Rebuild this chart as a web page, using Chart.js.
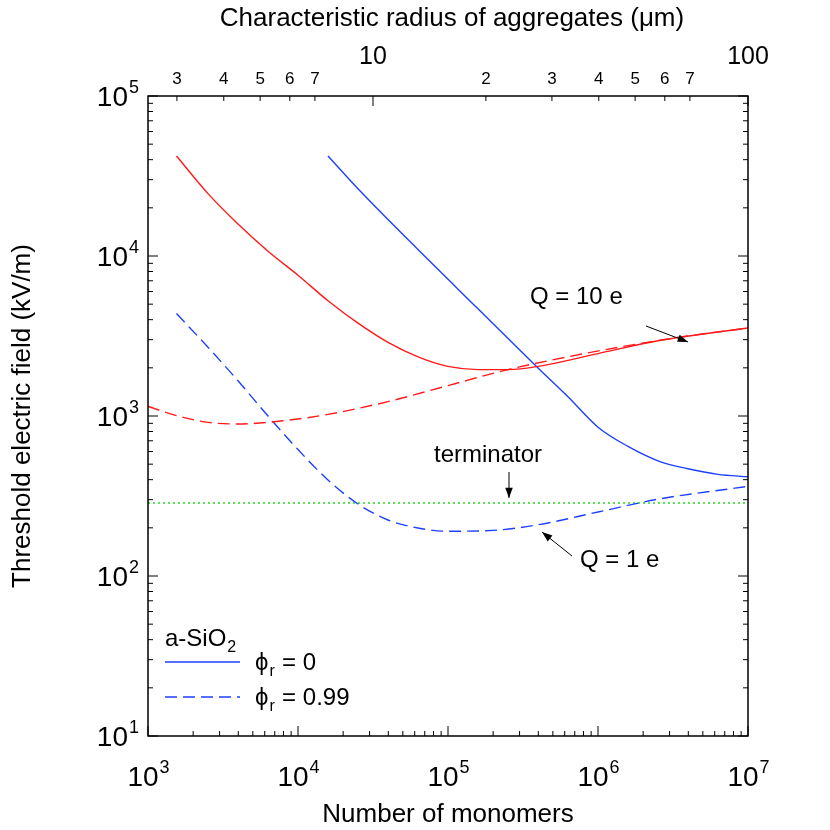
<!DOCTYPE html>
<html><head><meta charset="utf-8">
<script src="https://cdn.jsdelivr.net/npm/chart.js@4/dist/chart.umd.min.js"></script>
<style>html,body{margin:0;background:#fff}#wrap{width:830px;height:830px}</style>
</head><body><div id="wrap"><canvas id="c"></canvas></div>
<script>
// values (log10 N, log10 E[kV/m])
const redSolidLogN = [3.19, 3.4, 3.6, 3.8, 4.0, 4.2, 4.4, 4.6, 4.8, 5.0, 5.2, 5.4, 5.6, 6.0, 6.4, 7.0];
const redSolidLogE = [4.625, 4.39, 4.2, 4.03, 3.88, 3.72, 3.58, 3.46, 3.37, 3.31, 3.29, 3.29, 3.31, 3.39, 3.47, 3.55];
const redDashLogN = [3.0, 3.2, 3.4, 3.6, 3.9, 4.2, 4.6, 5.0, 5.4, 5.8, 6.2, 6.6, 7.0];
const redDashLogE = [3.06, 3.0, 2.96, 2.95, 2.97, 3.01, 3.09, 3.19, 3.29, 3.37, 3.44, 3.5, 3.55];
const blueSolidLogN = [4.2, 4.4, 4.8, 5.2, 5.6, 5.8, 6.0, 6.2, 6.4, 6.6, 6.8, 7.0];
const blueSolidLogE = [4.625, 4.42, 4.04, 3.67, 3.3, 3.12, 2.93, 2.81, 2.72, 2.67, 2.635, 2.62];
const blueDashLogN = [3.19, 3.4, 3.6, 3.8, 4.0, 4.2, 4.4, 4.6, 4.8, 5.0, 5.3, 5.6, 6.0, 6.4, 7.0];
const blueDashLogE = [3.64, 3.43, 3.22, 3.0, 2.79, 2.6, 2.45, 2.35, 2.3, 2.28, 2.285, 2.32, 2.4, 2.48, 2.56];
const terminatorE = 286;
const radiusTickLabels = ['3', '4', '5', '6', '7', '10', '2', '3', '4', '5', '6', '7', '100'];
const radiusTickValues = [3, 4, 5, 6, 7, 10, 20, 30, 40, 50, 60, 70, 100];

const pts = (xs, ys) => xs.map((x, i) => ({ x: Math.pow(10, x), y: Math.pow(10, ys[i]) }));
const FONT = '"Liberation Sans", Arial, sans-serif';

const ds = (label, xs, ys, color, dash) => ({
  label, data: pts(xs, ys), borderColor: color, borderWidth: 1.4,
  borderDash: dash || [], pointRadius: 0, cubicInterpolationMode: 'monotone', fill: false
});

function arrow(ctx, x1, y1, x2, y2) {
  ctx.beginPath(); ctx.moveTo(x1, y1); ctx.lineTo(x2, y2); ctx.stroke();
  const a = Math.atan2(y2 - y1, x2 - x1), L = 11, w = 0.35;
  ctx.beginPath(); ctx.moveTo(x2, y2);
  ctx.lineTo(x2 - L * Math.cos(a - w), y2 - L * Math.sin(a - w));
  ctx.lineTo(x2 - L * Math.cos(a + w), y2 - L * Math.sin(a + w));
  ctx.closePath(); ctx.fill();
}

const decor = {
  id: 'decor',
  afterDraw(chart) {
    const ctx = chart.ctx, a = chart.chartArea, xs = chart.scales.x, ys = chart.scales.y, xt = chart.scales.xTop;
    ctx.save();
    ctx.strokeStyle = '#000'; ctx.fillStyle = '#000'; ctx.lineWidth = 1.5;
    ctx.strokeRect(a.left, a.top, a.right - a.left, a.bottom - a.top);
    ctx.lineWidth = 1;
    // x ticks
    for (let d = 3; d <= 7; d++) for (let m = 1; m <= 9; m++) {
      if (d === 7 && m > 1) break;
      const px = xs.getPixelForValue(m * Math.pow(10, d)), L = m === 1 ? 10 : 5;
      ctx.beginPath(); ctx.moveTo(px, a.bottom); ctx.lineTo(px, a.bottom - L); ctx.stroke();
    }
    // y ticks both sides
    for (let d = 1; d <= 5; d++) for (let m = 1; m <= 9; m++) {
      if (d === 5 && m > 1) break;
      const py = ys.getPixelForValue(m * Math.pow(10, d)), L = m === 1 ? 10 : 5;
      ctx.beginPath(); ctx.moveTo(a.left, py); ctx.lineTo(a.left + L, py);
      ctx.moveTo(a.right, py); ctx.lineTo(a.right - L, py); ctx.stroke();
    }
    // top ticks
    radiusTickValues.forEach((v, i) => {
      const px = xt.getPixelForValue(v), big = v === 10 || v === 100;
      ctx.beginPath(); ctx.moveTo(px, a.top); ctx.lineTo(px, a.top + (big ? 10 : 5)); ctx.stroke();
      ctx.textAlign = 'center'; ctx.textBaseline = 'alphabetic';
      ctx.font = (big ? 25 : 17) + 'px ' + FONT;
      ctx.fillText(radiusTickLabels[i], px, big ? 64 : 84);
    });
    // power labels
    const pow = (x, y, e, align) => {
      ctx.font = '28px ' + FONT; const bw = ctx.measureText('10').width;
      ctx.font = '18px ' + FONT; const ew = ctx.measureText(e).width;
      let x0 = align === 'center' ? x - (bw + ew) / 2 : x - bw - ew;
      ctx.textAlign = 'left'; ctx.textBaseline = 'alphabetic';
      ctx.font = '28px ' + FONT; ctx.fillText('10', x0, y);
      ctx.font = '18px ' + FONT; ctx.fillText(e, x0 + bw + 1, y - 13);
    };
    for (let d = 3; d <= 7; d++) pow(xs.getPixelForValue(Math.pow(10, d)), 786, String(d), 'center');
    for (let d = 1; d <= 5; d++) pow(138, ys.getPixelForValue(Math.pow(10, d)) + 10, String(d), 'right');
    // axis titles
    ctx.textAlign = 'center'; ctx.font = '26px ' + FONT;
    ctx.fillText('Number of monomers', 448, 822);
    ctx.fillText('Characteristic radius of aggregates (μm)', 452, 26);
    ctx.save(); ctx.translate(30, 416); ctx.rotate(-Math.PI / 2);
    ctx.fillText('Threshold electric field (kV/m)', 0, 0); ctx.restore();
    // annotations
    ctx.font = '24px ' + FONT; ctx.textAlign = 'left';
    ctx.fillText('Q = 10 e', 530, 304);
    ctx.fillText('Q = 1 e', 580, 567);
    ctx.fillText('terminator', 434, 462);
    arrow(ctx, 646, 326, 688, 342);
    arrow(ctx, 572, 556, 542, 532);
    arrow(ctx, 509, 472, 509, 498);
    // legend
    ctx.fillText('a-SiO', 165, 646);
    const w = ctx.measureText('a-SiO').width;
    ctx.font = '16px ' + FONT; ctx.fillText('2', 165 + w + 1, 652);
    ctx.strokeStyle = '#1f3fff'; ctx.lineWidth = 1.4;
    ctx.beginPath(); ctx.moveTo(165, 662); ctx.lineTo(240, 662); ctx.stroke();
    ctx.setLineDash([12, 6]);
    ctx.beginPath(); ctx.moveTo(165, 697); ctx.lineTo(240, 697); ctx.stroke();
    ctx.setLineDash([]);
    const phi = (y, v) => {
      ctx.font = '24px ' + FONT; ctx.fillText('ϕ', 255, y);
      const pw = ctx.measureText('ϕ').width;
      ctx.font = '16px ' + FONT; ctx.fillText('r', 255 + pw + 1, y + 6);
      ctx.font = '24px ' + FONT; ctx.fillText(' = ' + v, 255 + pw + 7, y);
    };
    phi(670, '0'); phi(705, '0.99');
    ctx.restore();
  }
};

const hide = { display: false };
new Chart(document.getElementById('c'), {
  type: 'line',
  data: {
    datasets: [
      ds('Q=10e phi=0', redSolidLogN, redSolidLogE, '#ff1a1a'),
      ds('Q=10e phi=0.99', redDashLogN, redDashLogE, '#ff1a1a', [12, 6]),
      ds('Q=1e phi=0', blueSolidLogN, blueSolidLogE, '#1f3fff'),
      ds('Q=1e phi=0.99', blueDashLogN, blueDashLogE, '#1f3fff', [12, 6]),
      { label: 'terminator', data: [{ x: 1e3, y: terminatorE }, { x: 1e7, y: terminatorE }],
        borderColor: '#22dd22', borderWidth: 1.6, borderDash: [2, 3], pointRadius: 0 }
    ]
  },
  options: {
    responsive: true, maintainAspectRatio: false, animation: false,
    layout: { padding: { left: 0, right: 82, top: 0, bottom: 0 } },
    plugins: { legend: hide, tooltip: { enabled: false } },
    scales: {
      x: { type: 'logarithmic', position: 'bottom', min: 1e3, max: 1e7,
        grid: hide, border: hide, ticks: hide, afterFit: s => { s.height = 94; } },
      xTop: { type: 'logarithmic', position: 'top', min: Math.pow(10, 0.4), max: 100,
        grid: hide, border: hide, ticks: hide, afterFit: s => { s.height = 96; } },
      y: { type: 'logarithmic', min: 10, max: 1e5,
        grid: hide, border: hide, ticks: hide, afterFit: s => { s.width = 148; } }
    }
  },
  plugins: [decor]
});
</script></body></html>
